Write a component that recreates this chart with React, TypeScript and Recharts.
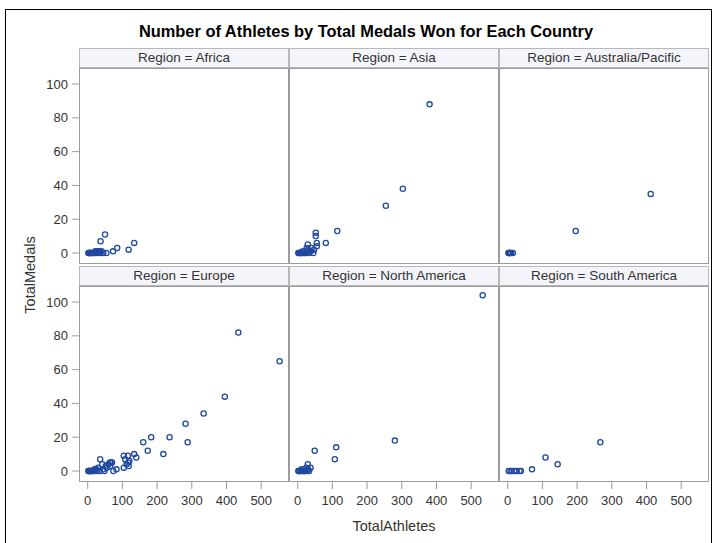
import React from "react";
import { ScatterChart, Scatter, XAxis, YAxis } from "recharts";

const title = "Number of Athletes by Total Medals Won for Each Country";
const regions = ["Africa", "Asia", "Australia/Pacific", "Europe", "North America", "South America"];
const xTicks = [0, 100, 200, 300, 400, 500];
const yTicks = [0, 20, 40, 60, 80, 100];

const africaAthletes = [50, 37, 134, 118, 85, 73, 54, 40, 33, 28, 20, 10, 5, 3, 8, 15, 12, 25, 30, 36, 45, 6, 2, 18, 22];
const africaMedals = [11, 7, 6, 2, 3, 1, 0, 1, 1, 1, 0, 0, 0, 0, 0, 0, 0, 0, 0, 0, 0, 0, 0, 0, 1];

const asiaAthletes = [380, 303, 254, 114, 81, 52, 52, 55, 55, 29, 47, 40, 35, 30, 25, 20, 15, 10, 5, 8, 3, 12, 18, 22, 28, 33, 38, 45, 6, 2, 26, 14];
const asiaMedals = [88, 38, 28, 13, 6, 12, 10, 6, 4, 5, 2, 3, 1, 2, 1, 0, 1, 0, 0, 0, 0, 0, 0, 0, 0, 0, 1, 0, 0, 0, 3, 0];

const pacificAthletes = [412, 196, 5, 2, 8, 10, 15, 4, 6];
const pacificMedals = [35, 13, 0, 0, 0, 0, 0, 0, 0];

const europeAthletes = [434, 553, 395, 334, 282, 288, 236, 183, 160, 173, 218, 134, 140, 104, 116, 108, 117, 118, 104, 112, 120, 36, 64, 60, 70, 42, 52, 55, 83, 74, 30, 25, 20, 15, 10, 5, 3, 8, 12, 2, 45, 35, 28, 48, 65, 68, 6, 18];
const europeMedals = [82, 65, 44, 34, 28, 17, 20, 20, 17, 12, 10, 10, 8, 9, 9, 7, 5, 3, 2, 4, 6, 7, 5, 4, 5, 4, 3, 2, 1, 0, 2, 1, 1, 0, 0, 0, 0, 0, 0, 0, 1, 0, 0, 0, 3, 5, 0, 0];

const northAmAthletes = [533, 280, 111, 107, 49, 29, 37, 30, 25, 20, 15, 10, 5, 3, 8, 2, 12, 18, 22, 27, 33];
const northAmMedals = [104, 18, 14, 7, 12, 4, 2, 1, 2, 0, 0, 0, 0, 0, 0, 0, 1, 0, 0, 0, 0];

const southAmAthletes = [267, 109, 144, 70, 3, 8, 12, 19, 26, 34, 38];
const southAmMedals = [17, 8, 4, 1, 0, 0, 0, 0, 0, 0, 0];

const athletesByRegion = [africaAthletes, asiaAthletes, pacificAthletes, europeAthletes, northAmAthletes, southAmAthletes];
const medalsByRegion = [africaMedals, asiaMedals, pacificMedals, europeMedals, northAmMedals, southAmMedals];

const FONT = "'Liberation Sans', Arial, sans-serif";
const TEXT = "#333";
const FRAME = "#9c9c9c";
const MARK = "#1f48a0";

const colX = [79, 289, 499];
const plotW = 210;
const plotH = 196;
const headerH = 19;
const plotTop = [68, 286];
const yAxisW = 40;
const xAxisH = 32;

const Ring = (p: any) => (
  <circle cx={p.cx} cy={p.cy} r={2.6} fill="none" stroke={MARK} strokeWidth={1.3} />
);

function Panel({ idx }: { idx: number }) {
  const col = idx % 3;
  const row = Math.floor(idx / 3);
  const left = colX[col];
  const top = plotTop[row];
  const showY = col === 0;
  const showX = row === 1;
  const data = athletesByRegion[idx].map((a, i) => ({ athletes: a, medals: medalsByRegion[idx][i] }));
  const tick = { fill: TEXT, fontSize: 13, fontFamily: FONT };

  return (
    <>
      <div
        style={{
          position: "absolute", left, top: top - headerH - 1, width: plotW - 2, height: headerH - 1,
          background: "#f4f5fb", border: "1px solid #b8b8b8", textAlign: "center",
          fontFamily: FONT, fontSize: 13.5, lineHeight: `${headerH - 1}px`, color: TEXT,
        }}
      >
        Region = {regions[idx]}
      </div>
      <div
        style={{
          position: "absolute", left, top, width: plotW - 2, height: plotH - 2,
          border: `1px solid ${FRAME}`,
        }}
      />
      <div style={{ position: "absolute", left: left - (showY ? yAxisW : 0), top }}>
        <ScatterChart
          width={plotW + (showY ? yAxisW : 0)}
          height={plotH + (showX ? xAxisH : 0)}
          margin={{ top: 0, right: 0, bottom: 0, left: 0 }}
        >
          <XAxis
            type="number" dataKey="athletes" domain={[-25, 580]} ticks={xTicks} allowDataOverflow
            hide={!showX} height={xAxisH} axisLine={false} tickSize={7} tickMargin={7}
            tickLine={{ stroke: FRAME }} tick={tick} interval={0}
          />
          <YAxis
            type="number" dataKey="medals" domain={[-6.5, 109.5]} ticks={yTicks} allowDataOverflow
            hide={!showY} width={yAxisW} axisLine={false} tickSize={7} tickMargin={4}
            tickLine={{ stroke: FRAME }} tick={tick} interval={0}
          />
          <Scatter data={data} shape={Ring} isAnimationActive={false} />
        </ScatterChart>
      </div>
    </>
  );
}

export default function App() {
  return (
    <div style={{ position: "absolute", left: 0, top: 0, width: 714, height: 543, overflow: "hidden", background: "#fff" }}>
      <div style={{ position: "absolute", left: 5, top: 9, width: 705, height: 600, border: "1px solid #000" }} />
      <div
        style={{
          position: "absolute", left: 0, top: 22, width: 732, textAlign: "center",
          fontFamily: FONT, fontWeight: "bold", fontSize: 16.4, color: "#000",
        }}
      >
        {title}
      </div>
      {regions.map((_, i) => (
        <Panel key={i} idx={i} />
      ))}
      <div
        style={{
          position: "absolute", left: 30, top: 275, transform: "translate(-50%, -50%) rotate(-90deg)",
          fontFamily: FONT, fontSize: 14.5, color: TEXT, whiteSpace: "nowrap",
        }}
      >
        TotalMedals
      </div>
      <div
        style={{
          position: "absolute", left: 394, top: 526, transform: "translate(-50%, -50%)",
          fontFamily: FONT, fontSize: 14.5, color: TEXT, whiteSpace: "nowrap",
        }}
      >
        TotalAthletes
      </div>
    </div>
  );
}
